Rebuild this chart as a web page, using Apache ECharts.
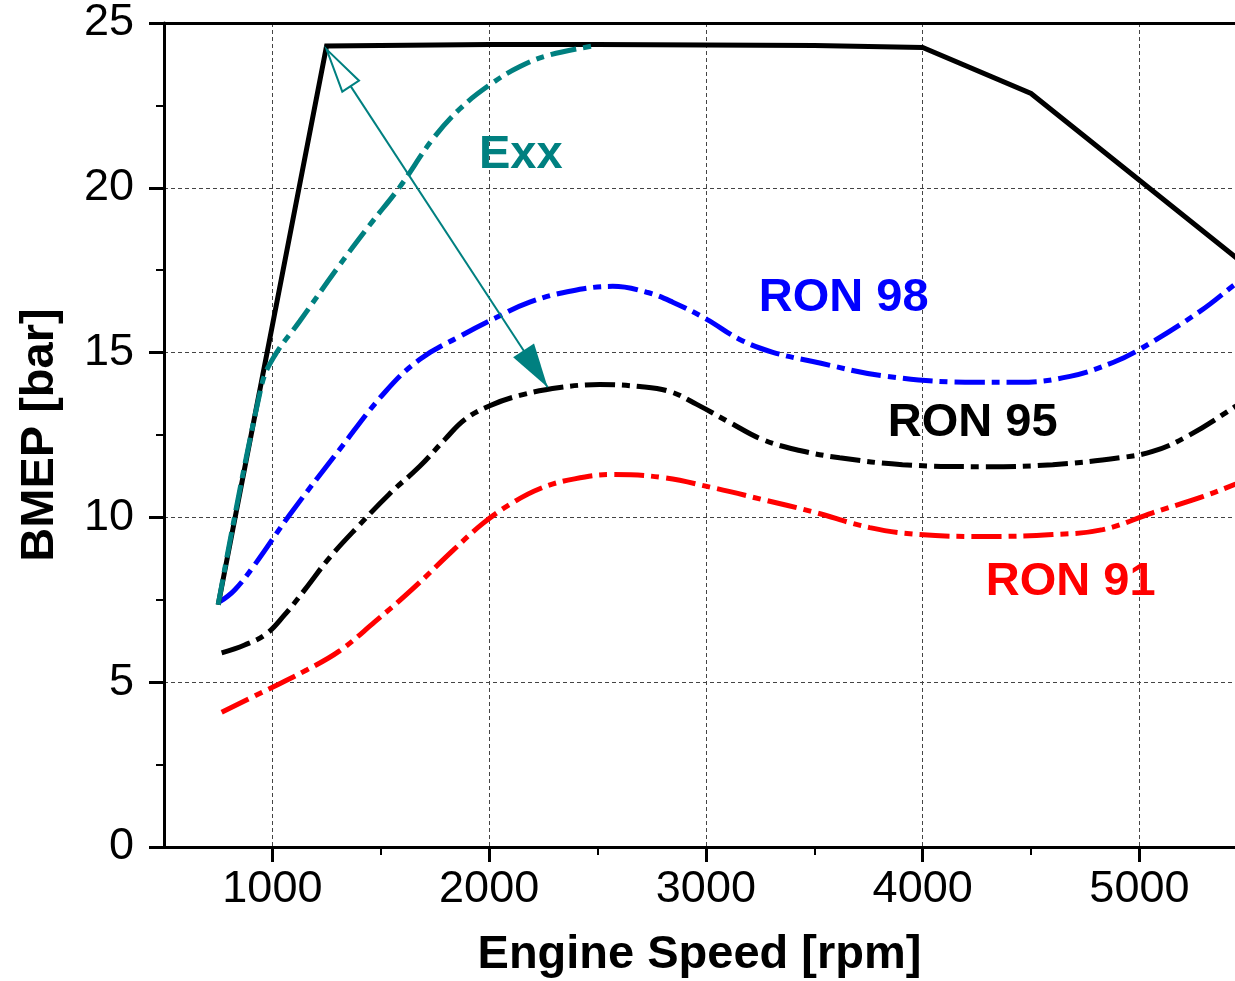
<!DOCTYPE html>
<html>
<head>
<meta charset="utf-8">
<script src="https://cdn.jsdelivr.net/npm/echarts@6/dist/echarts.min.js"></script>
<style>
html,body{margin:0;padding:0;background:#fff;}
#chart{width:1235px;height:981px;}
</style>
</head>
<body>
<div id="chart"></div>
<script>
// ---- data ----
const xMajorTicks = [1000, 2000, 3000, 4000, 5000];
const xMinorTicks = [1500, 2500, 3500, 4500];
const fullLoad = [[750,7.35],[1250,24.3],[2000,24.35],[2500,24.35],[3500,24.32],[4000,24.26],[4500,22.86],[5500,17.6]];
const exx = [[750,7.35],[950,14.0],[1010,14.9],[1126,15.95],[1296,17.53],[1449,18.87],[1587,20.02],[1740,21.48],[1864,22.39],[2002,23.12],[2140,23.67],[2279,24.03],[2477,24.3]];
const ron98 = [[757,7.44],[826,7.8],[918,8.56],[1080,10.08],[1310,12.06],[1518,13.79],[1679,14.79],[1864,15.49],[2035,16.07],[2187,16.53],[2372,16.86],[2570,17.01],[2727,16.83],[2847,16.53],[3004,16.01],[3156,15.4],[3309,15.01],[3493,14.73],[3834,14.28],[4250,14.1],[4449,14.1],[4680,14.28],[4878,14.7],[5002,15.1],[5279,16.25],[5441,17.07],[5500,17.35]];
const ron95 = [[766,5.89],[872,6.13],[973,6.47],[1056,7.04],[1149,7.8],[1264,8.78],[1403,9.78],[1541,10.72],[1680,11.55],[1795,12.36],[1888,12.97],[2003,13.39],[2141,13.7],[2326,13.94],[2510,14.03],[2695,13.97],[2833,13.82],[2958,13.43],[3110,12.88],[3262,12.36],[3433,12.03],[3617,11.81],[3907,11.6],[4295,11.54],[4600,11.6],[4909,11.81],[5061,12.0],[5218,12.45],[5441,13.36],[5500,13.65]];
const ron91 = [[766,4.09],[973,4.76],[1158,5.37],[1310,5.95],[1472,6.83],[1647,7.83],[1832,8.99],[1970,9.81],[2095,10.39],[2233,10.87],[2394,11.17],[2570,11.3],[2801,11.21],[3032,10.9],[3262,10.54],[3493,10.17],[3756,9.69],[3986,9.48],[4296,9.42],[4600,9.48],[4831,9.63],[5061,10.14],[5292,10.63],[5441,11.0],[5500,11.15]];
const arrowStart = [1250, 24.2];
const arrowEnd = [2270, 13.95];
const labelNames = ['Exx', 'RON 98', 'RON 95', 'RON 91'];
const labelX = [2146, 3636, 4231, 4683];
const labelY = [21.0, 16.65, 12.86, 8.05];
const labelColors = ['#008080', '#0000ff', '#000000', '#ff0000'];

const FONT = 'Liberation Sans, Arial, sans-serif';
const chart = echarts.init(document.getElementById('chart'), null, {renderer: 'canvas'});

const dashDot = (c, pattern) => ({color: c, width: 5, type: pattern, cap: 'butt'});

const option = {
  backgroundColor: '#ffffff',
  animation: false,
  grid: {left: 164, right: 0, top: 23, bottom: 134, containLabel: false, outerBoundsMode: 'none'},
  xAxis: [
    {
      type: 'value', min: 500, max: 5441, position: 'bottom',
      name: 'Engine Speed [rpm]', nameLocation: 'middle', nameGap: 85,
      nameTextStyle: {fontFamily: FONT, fontWeight: 'bold', fontSize: 47, color: '#000'},
      axisLine: {show: true, lineStyle: {color: '#000', width: 3}},
      axisTick: {show: true, customValues: xMajorTicks, length: 15, lineStyle: {color: '#000', width: 3}},
      axisLabel: {show: true, customValues: xMajorTicks, margin: 20, fontFamily: FONT, fontSize: 45, color: '#000', formatter: v => String(v)},
      splitLine: {show: true, lineStyle: {color: '#444', width: 1, type: [4, 3]}},
      minorTick: {show: false}
    },
    {
      type: 'value', min: 500, max: 5441, position: 'bottom',
      axisLine: {show: false},
      axisTick: {show: true, customValues: xMinorTicks, length: 8, lineStyle: {color: '#000', width: 2}},
      axisLabel: {show: false},
      splitLine: {show: false}
    },
    {
      type: 'value', min: 500, max: 5441, position: 'top',
      axisLine: {show: true, lineStyle: {color: '#000', width: 3}},
      axisTick: {show: false}, axisLabel: {show: false}, splitLine: {show: false}
    }
  ],
  yAxis: {
    type: 'value', min: 0, max: 25, interval: 5,
    name: 'BMEP [bar]', nameLocation: 'middle', nameGap: 100,
    nameTextStyle: {fontFamily: FONT, fontWeight: 'bold', fontSize: 47, color: '#000'},
    axisLine: {show: true, lineStyle: {color: '#000', width: 3}},
    axisTick: {show: true, length: 15, lineStyle: {color: '#000', width: 3}},
    minorTick: {show: true, splitNumber: 2, length: 8, lineStyle: {color: '#000', width: 2}},
    axisLabel: {margin: 30, fontFamily: FONT, fontSize: 45, color: '#000'},
    splitLine: {show: true, showMinLine: false, showMaxLine: false, lineStyle: {color: '#444', width: 1, type: [4, 3]}}
  },
  series: [
    {type: 'line', name: 'RON 91', data: ron91, smooth: 0.4, showSymbol: false, symbol: 'none', lineStyle: dashDot('#ff0000', [30, 7, 8, 7]), z: 3},
    {type: 'line', name: 'RON 95', data: ron95, smooth: 0.4, showSymbol: false, symbol: 'none', lineStyle: dashDot('#000000', [30, 7, 8, 7]), z: 3},
    {type: 'line', name: 'RON 98', data: ron98, smooth: 0.4, showSymbol: false, symbol: 'none', lineStyle: dashDot('#0000ff', [30, 7, 8, 7]), z: 3},
    {type: 'line', name: 'Full load', data: fullLoad, smooth: false, showSymbol: false, symbol: 'none', lineStyle: {color: '#000', width: 5, cap: 'butt', join: 'miter'}, z: 4},
    {type: 'line', name: 'Exx', data: exx, smooth: 0.4, showSymbol: false, symbol: 'none', lineStyle: dashDot('#008080', [26, 7, 8, 7]), z: 5},
    {
      type: 'line', name: 'arrow', data: [], symbol: 'none', z: 6,
      markLine: {
        silent: true, animation: false,
        symbol: ['emptyTriangle', 'triangle'],
        symbolSize: 30,
        label: {show: false},
        lineStyle: {color: '#008080', width: 2, type: 'solid'},
        emphasis: {disabled: true},
        data: [[
          {coord: arrowStart, symbol: 'emptyTriangle', symbolSize: [20, 44], symbolOffset: [0, 22]},
          {coord: arrowEnd, symbol: 'triangle', symbolSize: [25, 44], symbolOffset: [0, 22]}
        ]]
      }
    },
    {
      type: 'scatter', name: 'labels', symbolSize: 0, silent: true, z: 7,
      itemStyle: {opacity: 1},
      emphasis: {disabled: true},
      data: labelNames.map((n, i) => ({
        value: [labelX[i], labelY[i]], name: n,
        label: {show: true, position: 'inside', formatter: n, fontFamily: FONT, fontWeight: 'bold', fontSize: 47, color: labelColors[i], opacity: 1}
      }))
    }
  ]
};
chart.setOption(option);
</script>
</body>
</html>
